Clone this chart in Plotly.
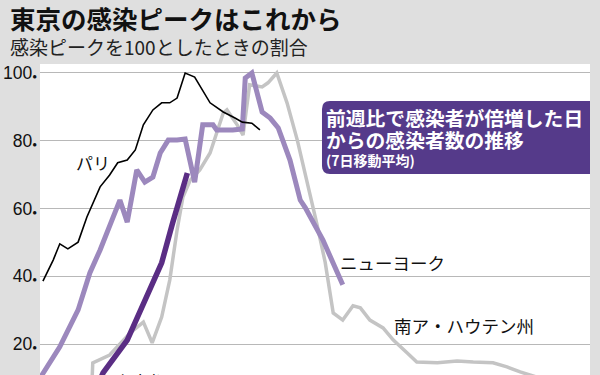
import plotly.graph_objects as go

# ---- data (x: days since weekly doubling, y: % of peak) ----
paris_x = [0.4, 1.8, 2.7, 3.8, 5.2, 6.4, 8.2, 9.5, 10.6, 11.9, 13.0, 14.1, 15.4, 16.6, 17.7, 18.7, 19.8, 21.1, 23.2, 25.0, 26.6, 27.6, 28.9, 30.0]
paris_y = [38.6, 44.8, 49.6, 48.1, 50.1, 57.5, 66.4, 69.9, 73.5, 74.3, 77.3, 84.7, 89.1, 91.2, 91.2, 92.6, 100, 98.8, 91.2, 88.5, 86.7, 85.5, 85.2, 83.2]

ny_x = [0, 2.7, 5.2, 6.8, 8.2, 10.9, 11.9, 13.2, 14.3, 15.4, 16.4, 17.5, 18.7, 19.8, 21.1, 22.2, 23.6, 24.1, 26.3, 27.6, 28.0, 28.9, 30.3, 31.4, 32.5, 34.1, 35.5, 36.2, 38.6, 41.3]
ny_y = [10.0, 19.2, 30.1, 41.0, 47.8, 62.5, 56.0, 71.4, 67.8, 69.3, 76.4, 80.2, 80.2, 80.5, 67.8, 84.7, 84.7, 83.2, 83.2, 83.5, 98.5, 100, 88.5, 86.7, 83.8, 74.3, 62.5, 60.2, 50.7, 37.5]

tokyo_x = [8.3, 8.6, 11.9, 15.0, 16.6, 18.1, 19.1, 20.1]
tokyo_y = [10.0, 11.5, 21.2, 36.0, 44.0, 55.8, 63.4, 70.5]

sa_x = [7.1, 7.2, 9.5, 12.3, 14.1, 15.3, 16.6, 17.7, 18.7, 19.5, 20.5, 21.8, 23.2, 25.0, 25.5, 26.9, 27.7, 28.6, 30.3, 31.1, 32.3, 33.7, 35.1, 36.4, 37.8, 38.9, 40.0, 41.3, 42.7, 43.7, 45.0, 46.8, 48.2, 50.1, 51.4, 54.2, 56.9, 59.1, 61.8, 63.7, 65.5, 68.2]
sa_y = [9.4, 14.5, 16.8, 23.3, 26.5, 20.4, 28.0, 38.9, 53.7, 63.4, 68.4, 71.4, 76.4, 88.2, 89.1, 84.7, 81.7, 96.5, 95.9, 97.1, 100, 91.2, 80.2, 68.4, 55.2, 44.2, 29.2, 27.1, 31.3, 30.7, 27.1, 24.8, 21.2, 17.4, 14.7, 14.5, 15.0, 14.7, 14.5, 13.3, 11.8, 10.0]

y_ticks = [20, 40, 60, 80, 100]
y_ticktext = [f"{v}<span style='font-size:8px'>●</span>" for v in y_ticks]

JP = "Noto Sans CJK JP"
BG = "#dfdfdf"
BOX = "#553a8a"

fig = go.Figure()
fig.add_trace(go.Scatter(x=sa_x, y=sa_y, mode="lines", line=dict(color="#c4c4c4", width=3.5), hoverinfo="skip"))
fig.add_trace(go.Scatter(x=ny_x, y=ny_y, mode="lines", line=dict(color="#9c88bd", width=5), hoverinfo="skip"))
fig.add_trace(go.Scatter(x=tokyo_x, y=tokyo_y, mode="lines", line=dict(color="#5a2d84", width=5.5), hoverinfo="skip"))
fig.add_trace(go.Scatter(x=paris_x, y=paris_y, mode="lines", line=dict(color="#000000", width=1.6), hoverinfo="skip"))

# rounded box (paper coords)
x0, x1, y0, y1 = 0.5127, 1.0, 0.646, 0.881
rx, ry = 0.0145, 0.0257
path = (f"M {x0+rx},{y1} L {x1},{y1} L {x1},{y0} L {x0+rx},{y0} "
        f"Q {x0},{y0} {x0},{y0+ry} L {x0},{y1-ry} Q {x0},{y1} {x0+rx},{y1} Z")
fig.add_shape(type="path", path=path, xref="paper", yref="paper", fillcolor=BOX, line=dict(width=0), layer="above")

ann = []
ann.append(dict(text="<b>東京の感染ピークはこれから</b>", x=-0.058, y=1.148, xref="paper", yref="paper",
                xanchor="left", yanchor="middle", showarrow=False, font=dict(family=JP, size=25.5, color="#111")))
ann.append(dict(text="感染ピークを100としたときの割合", x=-0.058, y=1.055, xref="paper", yref="paper",
                xanchor="left", yanchor="middle", showarrow=False, font=dict(family=JP, size=19, color="#222")))
ann.append(dict(text="<b>前週比で感染者が倍増した日</b>", x=0.516, y=0.829, xref="paper", yref="paper",
                xanchor="left", yanchor="middle", showarrow=False, font=dict(family=JP, size=19.8, color="white")))
ann.append(dict(text="<b>からの感染者数の推移</b>", x=0.516, y=0.757, xref="paper", yref="paper",
                xanchor="left", yanchor="middle", showarrow=False, font=dict(family=JP, size=19.8, color="white")))
ann.append(dict(text="<b>(7日移動平均)</b>", x=0.516, y=0.690, xref="paper", yref="paper",
                xanchor="left", yanchor="middle", showarrow=False, font=dict(family=JP, size=14, color="white")))
ann.append(dict(text="パリ", x=7.2, y=73.7, xref="x", yref="y", xanchor="center", yanchor="middle",
                showarrow=False, font=dict(family=JP, size=17, color="#111")))
ann.append(dict(text="ニューヨーク", x=40.7, y=44.2, xref="x", yref="y", xanchor="left", yanchor="middle",
                showarrow=False, font=dict(family=JP, size=17.5, color="#111")))
ann.append(dict(text="南ア・ハウテン州", x=48.0, y=25.4, xref="x", yref="y", xanchor="left", yanchor="middle",
                showarrow=False, font=dict(family=JP, size=17.5, color="#111")))
ann.append(dict(text="東京都", x=0.131, y=-0.022, xref="paper", yref="paper", xanchor="left", yanchor="middle",
                showarrow=False, font=dict(family=JP, size=17.5, color="#111")))

fig.update_layout(
    width=600, height=375,
    margin=dict(l=40, r=10, t=64, b=0, pad=0),
    paper_bgcolor=BG, plot_bgcolor="white",
    showlegend=False,
    annotations=ann,
    xaxis=dict(range=[0, 75.03], showgrid=False, zeroline=False, showticklabels=False, ticks="",
               automargin=False, fixedrange=True),
    yaxis=dict(range=[10.9, 102.65], tickvals=y_ticks, ticktext=y_ticktext, showgrid=True,
               gridcolor="#b8b8b8", gridwidth=1, zeroline=False, ticks="", automargin=False,
               ticklabelstandoff=2,
               tickfont=dict(family="Liberation Sans Narrow, Arial Narrow, Liberation Sans, sans-serif", size=17.5, color="#111"),
               fixedrange=True),
)

fig.write_html("out.html", config={"displayModeBar": False},
               post_script="document.body.style.margin='0px';document.body.style.overflow='hidden';")
